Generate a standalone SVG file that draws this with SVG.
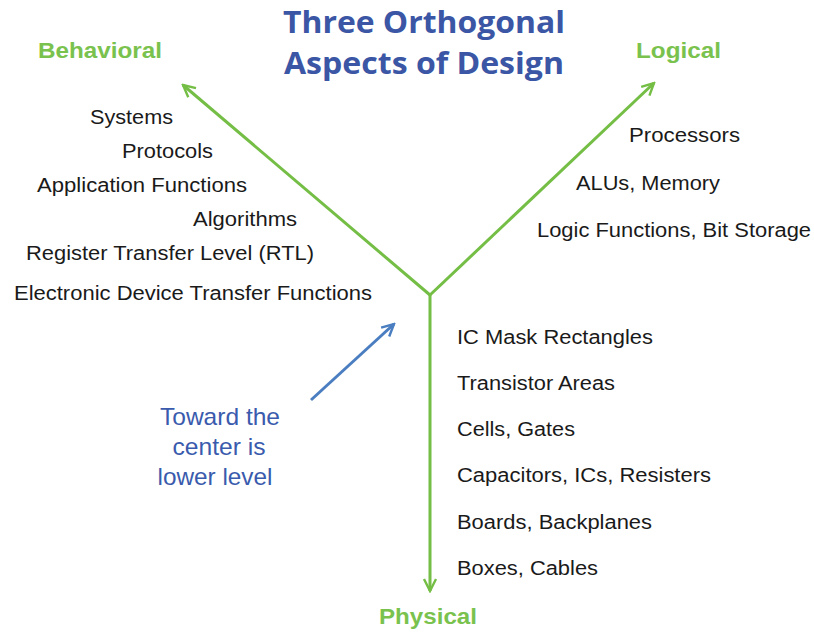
<svg xmlns="http://www.w3.org/2000/svg" width="814" height="632" viewBox="0 0 814 632">
<style>
.title{font-family:"Open Sans","Liberation Sans",sans-serif;font-weight:bold;font-size:31px;fill:#3A56A5;text-anchor:middle}
.axis{font-family:"Liberation Sans",Arial,sans-serif;font-weight:bold;font-size:22px;fill:#7AC24E}
.item{font-family:"Liberation Sans",Arial,sans-serif;font-size:20px;fill:#1a1a1a}
.note{font-family:"Liberation Sans",Arial,sans-serif;font-size:24px;fill:#3A5BAD;text-anchor:middle}
.g{stroke:#74BE45;stroke-width:3;fill:none}
.b{stroke:#4A7EC0;stroke-width:3;fill:none}
</style>
<defs>
<marker id="ag" viewBox="0 0 10 10" refX="9" refY="5" markerWidth="5" markerHeight="5" orient="auto" markerUnits="strokeWidth">
<polyline points="1,1 9,5 1,9" fill="none" stroke="#74BE45" stroke-width="1.6"/>
</marker>
<marker id="ab" viewBox="0 0 10 10" refX="9" refY="5" markerWidth="5" markerHeight="5" orient="auto" markerUnits="strokeWidth">
<polyline points="1,1 9,5 1,9" fill="none" stroke="#4A7EC0" stroke-width="1.6"/>
</marker>
</defs>
<g id="title">
<text class="title" x="424" y="33" textLength="282" lengthAdjust="spacingAndGlyphs">Three Orthogonal</text>
<text class="title" x="424" y="74" textLength="280" lengthAdjust="spacingAndGlyphs">Aspects of Design</text>
</g>
<g id="connectors">
<line class="g" x1="430" y1="295" x2="183" y2="85" marker-end="url(#ag)"/>
<line class="g" x1="430" y1="295" x2="654" y2="83" marker-end="url(#ag)"/>
<line class="g" x1="430" y1="293" x2="430" y2="591" marker-end="url(#ag)"/>
<line class="b" x1="311" y1="400" x2="394" y2="324" marker-end="url(#ab)"/>
</g>
<g id="behavioral">
<text class="axis" x="38" y="58" textLength="124" lengthAdjust="spacingAndGlyphs">Behavioral</text>
<text class="item" x="90" y="124" textLength="83" lengthAdjust="spacingAndGlyphs">Systems</text>
<text class="item" x="122" y="158" textLength="91" lengthAdjust="spacingAndGlyphs">Protocols</text>
<text class="item" x="37" y="192" textLength="210" lengthAdjust="spacingAndGlyphs">Application Functions</text>
<text class="item" x="193" y="226" textLength="104" lengthAdjust="spacingAndGlyphs">Algorithms</text>
<text class="item" x="26" y="260" textLength="288" lengthAdjust="spacingAndGlyphs">Register Transfer Level (RTL)</text>
<text class="item" x="14" y="300" textLength="358" lengthAdjust="spacingAndGlyphs">Electronic Device Transfer Functions</text>
</g>
<g id="logical">
<text class="axis" x="636" y="58" textLength="85" lengthAdjust="spacingAndGlyphs">Logical</text>
<text class="item" x="629" y="142" textLength="111" lengthAdjust="spacingAndGlyphs">Processors</text>
<text class="item" x="576" y="190" textLength="144" lengthAdjust="spacingAndGlyphs">ALUs, Memory</text>
<text class="item" x="537" y="237" textLength="274" lengthAdjust="spacingAndGlyphs">Logic Functions, Bit Storage</text>
</g>
<g id="physical">
<text class="axis" x="379" y="624" textLength="98" lengthAdjust="spacingAndGlyphs">Physical</text>
<text class="item" x="457" y="344" textLength="196" lengthAdjust="spacingAndGlyphs">IC Mask Rectangles</text>
<text class="item" x="457" y="390" textLength="158" lengthAdjust="spacingAndGlyphs">Transistor Areas</text>
<text class="item" x="457" y="436" textLength="118" lengthAdjust="spacingAndGlyphs">Cells, Gates</text>
<text class="item" x="457" y="482" textLength="254" lengthAdjust="spacingAndGlyphs">Capacitors, ICs, Resisters</text>
<text class="item" x="457" y="529" textLength="195" lengthAdjust="spacingAndGlyphs">Boards, Backplanes</text>
<text class="item" x="457" y="575" textLength="141" lengthAdjust="spacingAndGlyphs">Boxes, Cables</text>
</g>
<g id="note">
<text class="note" x="220" y="425" textLength="120" lengthAdjust="spacingAndGlyphs">Toward the</text>
<text class="note" x="219" y="455" textLength="93" lengthAdjust="spacingAndGlyphs">center is</text>
<text class="note" x="215" y="485" textLength="115" lengthAdjust="spacingAndGlyphs">lower level</text>
</g>
</svg>
